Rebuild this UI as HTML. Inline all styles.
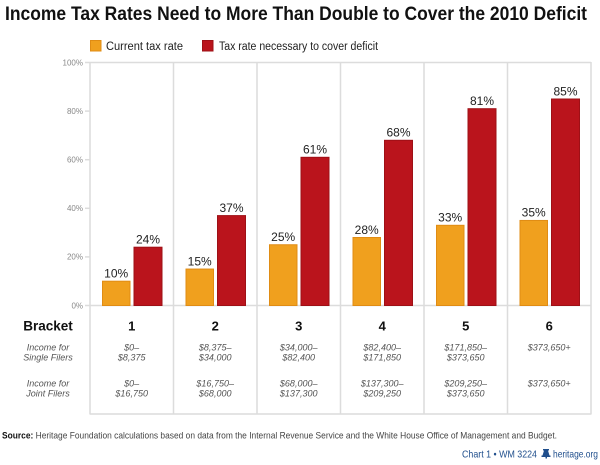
<!DOCTYPE html>
<html><head><meta charset="utf-8"><style>
html,body{margin:0;padding:0;background:#fff;}
svg{display:block;}
text{font-family:"Liberation Sans",sans-serif;}
</style></head><body>
<svg width="600" height="465" viewBox="0 0 600 465" xmlns="http://www.w3.org/2000/svg">
<!-- Title -->
<text x="5" y="20" font-size="19" font-weight="bold" fill="#111" textLength="582" lengthAdjust="spacingAndGlyphs">Income Tax Rates Need to More Than Double to Cover the 2010 Deficit</text>
<!-- Legend -->
<rect x="90.5" y="40.5" width="10.5" height="10.5" fill="#F0A01E" stroke="#E08C14"/>
<text x="106" y="50" font-size="11.5" fill="#222" textLength="77" lengthAdjust="spacingAndGlyphs">Current tax rate</text>
<rect x="202.5" y="40.5" width="10.5" height="10.5" fill="#BA141C" stroke="#9E1016"/>
<text x="219" y="50" font-size="11.5" fill="#222" textLength="159" lengthAdjust="spacingAndGlyphs">Tax rate necessary to cover deficit</text>

<!-- Frame -->
<g stroke="#dcdcdc" stroke-width="1.5" fill="none">
<line x1="90" y1="62.5" x2="591" y2="62.5"/>
<line x1="90" y1="305.5" x2="591" y2="305.5"/>
<line x1="90" y1="414" x2="591" y2="414"/>
<line x1="90" y1="62" x2="90" y2="414.5"/>
<line x1="173.5" y1="62" x2="173.5" y2="414.5"/>
<line x1="257" y1="62" x2="257" y2="414.5"/>
<line x1="340.5" y1="62" x2="340.5" y2="414.5"/>
<line x1="424" y1="62" x2="424" y2="414.5"/>
<line x1="507.5" y1="62" x2="507.5" y2="414.5"/>
<line x1="591" y1="62" x2="591" y2="414.5"/>
<line x1="85" y1="62.5" x2="90" y2="62.5"/>
<line x1="85" y1="111.1" x2="90" y2="111.1"/>
<line x1="85" y1="159.7" x2="90" y2="159.7"/>
<line x1="85" y1="208.3" x2="90" y2="208.3"/>
<line x1="85" y1="256.9" x2="90" y2="256.9"/>
<line x1="85" y1="305.5" x2="90" y2="305.5"/>
</g>
<g font-size="8" fill="#888" text-anchor="end">
<text x="83" y="65.5">100%</text>
<text x="83" y="114">80%</text>
<text x="83" y="162.5">60%</text>
<text x="83" y="211">40%</text>
<text x="83" y="259.5">20%</text>
<text x="83" y="308.5">0%</text>
</g>

<!-- Bars: y0=305.5, scale 2.43 -->
<g stroke-width="1">
<!-- col1 x=90 -->
<rect x="102.5" y="281.2" width="27.5" height="24.3" fill="#F0A01E" stroke="#E08C14"/>
<rect x="134" y="247.2" width="28" height="58.3" fill="#BA141C" stroke="#9E1016"/>
<!-- col2 x=173.5 -->
<rect x="186" y="269.05" width="27.5" height="36.45" fill="#F0A01E" stroke="#E08C14"/>
<rect x="217.5" y="215.6" width="28" height="89.9" fill="#BA141C" stroke="#9E1016"/>
<!-- col3 x=257 -->
<rect x="269.5" y="244.75" width="27.5" height="60.75" fill="#F0A01E" stroke="#E08C14"/>
<rect x="301" y="157.3" width="28" height="148.2" fill="#BA141C" stroke="#9E1016"/>
<!-- col4 x=340.5 -->
<rect x="353" y="237.5" width="27.5" height="68" fill="#F0A01E" stroke="#E08C14"/>
<rect x="384.5" y="140.3" width="28" height="165.2" fill="#BA141C" stroke="#9E1016"/>
<!-- col5 x=424 -->
<rect x="436.5" y="225.3" width="27.5" height="80.2" fill="#F0A01E" stroke="#E08C14"/>
<rect x="468" y="108.7" width="28" height="196.8" fill="#BA141C" stroke="#9E1016"/>
<!-- col6 x=507.5 -->
<rect x="520" y="220.45" width="27.5" height="85.05" fill="#F0A01E" stroke="#E08C14"/>
<rect x="551.5" y="99" width="28" height="206.5" fill="#BA141C" stroke="#9E1016"/>
</g>
<g font-size="12" fill="#222" text-anchor="middle">
<text x="116.2" y="277.5">10%</text>
<text x="148" y="243.5">24%</text>
<text x="199.7" y="265.3">15%</text>
<text x="231.5" y="212">37%</text>
<text x="283.2" y="241">25%</text>
<text x="315" y="153.6">61%</text>
<text x="366.7" y="233.8">28%</text>
<text x="398.5" y="136.6">68%</text>
<text x="450.2" y="221.6">33%</text>
<text x="482" y="105">81%</text>
<text x="533.7" y="216.7">35%</text>
<text x="565.5" y="95.3">85%</text>
</g>

<!-- Table -->
<text x="48" y="330.5" font-size="13.5" font-weight="bold" fill="#111" text-anchor="middle">Bracket</text>
<g font-size="13" font-weight="bold" fill="#111" text-anchor="middle">
<text x="131.7" y="330.5">1</text>
<text x="215.2" y="330.5">2</text>
<text x="298.7" y="330.5">3</text>
<text x="382.2" y="330.5">4</text>
<text x="465.7" y="330.5">5</text>
<text x="549.2" y="330.5">6</text>
</g>
<g font-size="9" font-style="italic" fill="#555" text-anchor="middle">
<text x="48" y="350.5">Income for</text>
<text x="48" y="360.5">Single Filers</text>
<text x="48" y="386.5">Income for</text>
<text x="48" y="396.5">Joint Filers</text>

<text x="131.7" y="350.5">$0–</text>
<text x="131.7" y="360.5">$8,375</text>
<text x="131.7" y="386.5">$0–</text>
<text x="131.7" y="396.5">$16,750</text>

<text x="215.2" y="350.5">$8,375–</text>
<text x="215.2" y="360.5">$34,000</text>
<text x="215.2" y="386.5">$16,750–</text>
<text x="215.2" y="396.5">$68,000</text>

<text x="298.7" y="350.5">$34,000–</text>
<text x="298.7" y="360.5">$82,400</text>
<text x="298.7" y="386.5">$68,000–</text>
<text x="298.7" y="396.5">$137,300</text>

<text x="382.2" y="350.5">$82,400–</text>
<text x="382.2" y="360.5">$171,850</text>
<text x="382.2" y="386.5">$137,300–</text>
<text x="382.2" y="396.5">$209,250</text>

<text x="465.7" y="350.5">$171,850–</text>
<text x="465.7" y="360.5">$373,650</text>
<text x="465.7" y="386.5">$209,250–</text>
<text x="465.7" y="396.5">$373,650</text>

<text x="549.2" y="350.5">$373,650+</text>
<text x="549.2" y="386.5">$373,650+</text>
</g>

<!-- Source -->
<text x="2" y="438.5" font-size="9.5" fill="#444" textLength="555" lengthAdjust="spacingAndGlyphs"><tspan font-weight="bold" fill="#111">Source:</tspan> Heritage Foundation calculations based on data from the Internal Revenue Service and the White House Office of Management and Budget.</text>

<!-- Footer -->
<text x="462" y="457.5" font-size="10.5" fill="#1F4E8C" textLength="75" lengthAdjust="spacingAndGlyphs">Chart 1 • WM 3224</text>
<g fill="#1F4E8C">
<path d="M543 449 h6 v1.5 h-1 l1.5 5 h1 v1.5 h-9 v-1.5 h1 l1.5 -5 h-1 z"/>
<rect x="545.5" y="457" width="1.5" height="1.5"/>
</g>
<text x="598" y="457.5" font-size="10.5" fill="#1F4E8C" text-anchor="end" textLength="45" lengthAdjust="spacingAndGlyphs">heritage.org</text>
</svg>
</body></html>
